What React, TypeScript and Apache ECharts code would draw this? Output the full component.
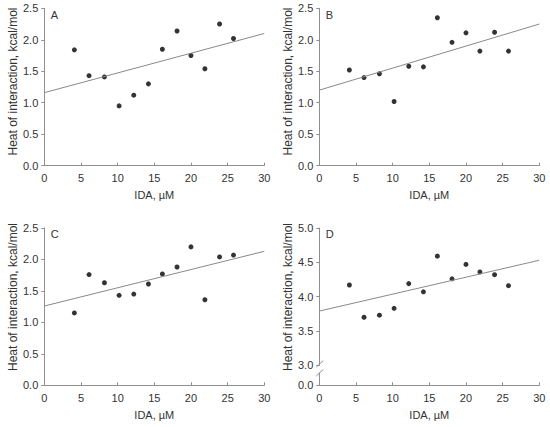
import React, { useEffect, useRef } from "react";
import * as echarts from "echarts";

const idaX = [4.1, 6.1, 8.2, 10.2, 12.2, 14.2, 16.1, 18.1, 20, 21.9, 23.9, 25.8];
const heatA = [1.84, 1.43, 1.41, 0.95, 1.12, 1.3, 1.85, 2.14, 1.75, 1.54, 2.25, 2.02];
const heatB = [1.52, 1.4, 1.46, 1.02, 1.58, 1.57, 2.35, 1.96, 2.11, 1.82, 2.12, 1.82];
const heatC = [1.15, 1.76, 1.63, 1.43, 1.45, 1.61, 1.77, 1.88, 2.2, 1.36, 2.04, 2.07];
const heatD = [4.17, 3.7, 3.73, 3.83, 4.19, 4.07, 4.59, 4.26, 4.47, 4.36, 4.32, 4.16];
const trendA = [[0, 1.16], [30, 2.1]];
const trendB = [[0, 1.2], [30, 2.25]];
const trendC = [[0, 1.26], [30, 2.13]];
const trendD = [[0, 3.79], [30, 4.53]];
const panelLetters = ["A", "B", "C", "D"];
const xTitle = "IDA, \u00b5M";
const yTitle = "Heat of interaction, kcal/mol";

const FONT = '"Liberation Sans", Arial, sans-serif';
const AXIS = "#8f8f8f";
const TXT = "#333333";

export default function App() {
  const ref = useRef<HTMLDivElement>(null);
  useEffect(() => {
    if (!ref.current) return;
    const chart = echarts.init(ref.current, null, { renderer: "svg" });
    const L1 = 44.3, L2 = 319.3, W = 220;
    const T1 = 8.3, H1 = 157.4, T2 = 228, H2 = 157.3;
    const grids = [
      { left: L1, top: T1, width: W, height: H1 },
      { left: L2, top: T1, width: W, height: H1 },
      { left: L1, top: T2, width: W, height: H2 },
      { left: L2, top: T2, width: W, height: 137.3 },
      { left: L2, top: 373, width: W, height: 12.3 },
    ];
    const xAx = (i: number, show: boolean) => ({
      type: "value",
      gridIndex: i,
      min: 0,
      max: 30,
      interval: 5,
      show,
      name: xTitle,
      nameLocation: "middle",
      nameGap: 24,
      nameTextStyle: { fontFamily: FONT, fontSize: 11, color: TXT },
      axisLine: { show: true, lineStyle: { color: AXIS, width: 1 } },
      axisTick: { show: true, inside: true, length: 3, lineStyle: { color: AXIS } },
      axisLabel: { margin: 7, fontFamily: FONT, fontSize: 11, color: TXT },
      splitLine: { show: false },
    });
    const yAx = (i: number, min: number, max: number) => ({
      type: "value",
      gridIndex: i,
      min,
      max,
      interval: 0.5,
      axisLine: { show: true, lineStyle: { color: AXIS, width: 1 } },
      axisTick: { show: true, inside: false, length: 3, lineStyle: { color: AXIS } },
      axisLabel: {
        margin: 6,
        fontFamily: FONT,
        fontSize: 11,
        color: TXT,
        formatter: (v: number) => v.toFixed(1),
      },
      splitLine: { show: false },
    });
    const scatter = (i: number, ys: number[]) => ({
      type: "scatter",
      xAxisIndex: i,
      yAxisIndex: i,
      symbolSize: 5,
      itemStyle: { color: "#000" },
      data: idaX.map((x, k) => [x, ys[k]]),
    });
    const trend = (i: number, d: number[][]) => ({
      type: "line",
      xAxisIndex: i,
      yAxisIndex: i,
      symbol: "none",
      lineStyle: { color: "#8a8a8a", width: 1 },
      data: d,
    });
    const letterPos = [
      [L1 + 6.5, T1 + 6.5],
      [L2 + 6.5, T1 + 6.5],
      [L1 + 6.5, T2 + 5.5],
      [L2 + 6.5, T2 + 5.5],
    ];
    const yTitlePos = [
      [12.7, 81.5],
      [287.7, 81.5],
      [12.7, 297],
      [287.7, 297],
    ];
    const graphic: any[] = [];
    panelLetters.forEach((t, k) => {
      graphic.push({
        type: "text",
        x: letterPos[k][0],
        y: letterPos[k][1],
        style: {
          text: t,
          font: `11px ${FONT}`,
          fill: TXT,
          align: "left",
          verticalAlign: "middle",
          textAlign: "left",
          textVerticalAlign: "middle",
        },
      });
      graphic.push({
        type: "text",
        x: yTitlePos[k][0],
        y: yTitlePos[k][1],
        rotation: Math.PI / 2,
        style: {
          text: yTitle,
          font: `12px ${FONT}`,
          fill: TXT,
          align: "center",
          verticalAlign: "middle",
          textAlign: "center",
          textVerticalAlign: "middle",
        },
      });
    });
    graphic.push({
      type: "line",
      shape: { x1: 316.3, y1: 367, x2: 323.3, y2: 360.5 },
      style: { stroke: AXIS, lineWidth: 1 },
    });
    graphic.push({
      type: "line",
      shape: { x1: 316.3, y1: 376, x2: 323.3, y2: 369.5 },
      style: { stroke: AXIS, lineWidth: 1 },
    });

    chart.setOption({
      animation: false,
      backgroundColor: "#ffffff",
      grid: grids,
      xAxis: [xAx(0, true), xAx(1, true), xAx(2, true), xAx(3, false), xAx(4, true)],
      yAxis: [
        yAx(0, 0, 2.5),
        yAx(1, 0, 2.5),
        yAx(2, 0, 2.5),
        yAx(3, 3, 5),
        {
          type: "value",
          gridIndex: 4,
          min: 0,
          max: 1,
          interval: 1,
          axisLine: { show: true, lineStyle: { color: AXIS, width: 1 } },
          axisTick: { show: true, inside: false, length: 3, customValues: [0], lineStyle: { color: AXIS } },
          axisLabel: {
            margin: 6,
            fontFamily: FONT,
            fontSize: 11,
            color: TXT,
            customValues: [0],
            formatter: (v: number) => (v === 0 ? "0.0" : ""),
          },
          splitLine: { show: false },
        },
      ],
      series: [
        trend(0, trendA),
        scatter(0, heatA),
        trend(1, trendB),
        scatter(1, heatB),
        trend(2, trendC),
        scatter(2, heatC),
        trend(3, trendD),
        scatter(3, heatD),
      ],
      graphic,
    } as any);
    return () => chart.dispose();
  }, []);
  return (
    <div
      ref={ref}
      style={{ position: "fixed", left: 0, top: 0, width: 550, height: 427, background: "#fff" }}
    />
  );
}
